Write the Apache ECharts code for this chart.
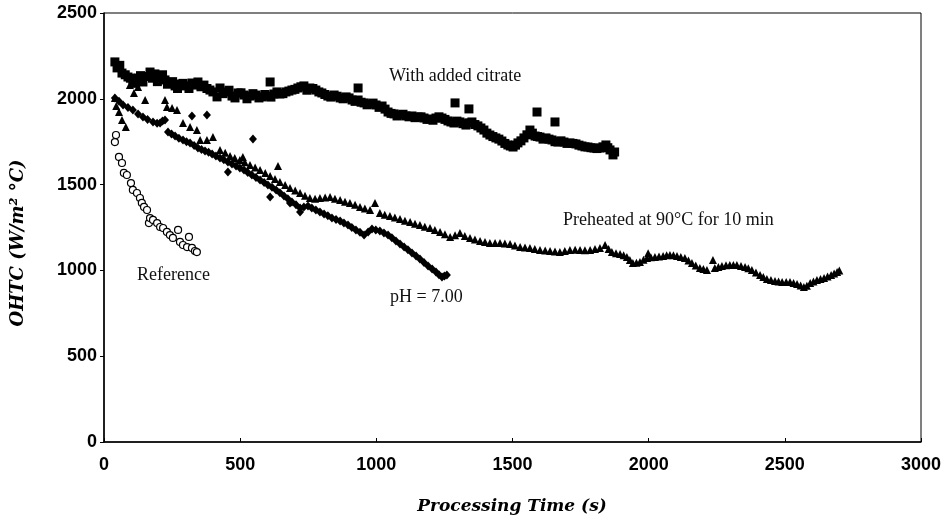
<!DOCTYPE html>
<html>
<head>
<meta charset="utf-8">
<script src="https://cdn.jsdelivr.net/npm/echarts@6/dist/echarts.min.js"></script>
<style>html,body{margin:0;padding:0;background:#fff}#c{width:948px;height:522px}</style>
</head>
<body>
<div id="c"></div>
<script>
// With added citrate (squares)
const citrateTime = [40,48,66,88,106,125,143,169,187,206,224,242,261,279,301,323,345,367,389,415,426,448,470,492,514,536,558,580,602,610,624,646,668,690,712,734,756,778,800,822,845,867,889,911,933,933,955,977,999,1021,1043,1065,1087,1109,1131,1153,1175,1197,1219,1241,1263,1285,1289,1307,1329,1340,1351,1373,1395,1417,1439,1461,1483,1502,1520,1542,1564,1583,1590,1601,1623,1645,1656,1667,1689,1711,1733,1755,1777,1799,1821,1843,1858,1869,
  58,78,97,116,134,152,178,196,215,233,252,270,290,312,334,356,378,400,437,459,481,503,525,547,569,591,613,635,657,679,701,723,745,767,789,811,833,856,878,900,922,944,966,988,1010,1032,1054,1076,1098,1120,1142,1164,1186,1208,1230,1252,1274,1296,1318,1340,1362,1384,1406,1428,1450,1472,1492,1511,1531,1553,1573,1592,1612,1634,1656,1678,1700,1722,1744,1766,1788,1810,1832,1850,1875];
const citrateOHTC = [2215,2180,2150,2127,2110,2121,2098,2156,2145,2127,2110,2092,2075,2086,2075,2092,2098,2080,2051,2011,2063,2040,2016,2034,2022,2016,2022,2011,2016,2098,2028,2028,2040,2051,2063,2075,2063,2051,2034,2016,2022,2005,2011,1993,2063,1993,1976,1970,1964,1958,1923,1912,1906,1900,1900,1894,1888,1882,1888,1888,1871,1859,1976,1865,1847,1941,1865,1842,1818,1789,1772,1754,1731,1719,1743,1772,1818,1783,1923,1777,1772,1760,1865,1748,1748,1743,1737,1725,1719,1713,1713,1731,1702,1673,
  2195,2140,2120,2090,2135,2130,2120,2100,2140,2085,2100,2060,2090,2060,2080,2070,2060,2040,2030,2050,2005,2035,2000,2030,2005,2025,2010,2040,2030,2045,2055,2070,2050,2060,2040,2025,2010,2015,2000,2005,1985,1980,1965,1975,1950,1940,1915,1900,1910,1895,1890,1895,1880,1875,1895,1880,1865,1870,1855,1860,1850,1830,1800,1780,1765,1740,1725,1730,1755,1790,1800,1780,1765,1765,1750,1755,1740,1740,1730,1720,1715,1710,1720,1715,1690];

// Preheated at 90°C for 10 min (triangles)
const preheatTime = [40,45,55,66,80,95,110,125,151,224,231,250,268,290,316,341,353,378,400,426,463,499,510,536,573,610,639,646,683,720,756,793,830,867,903,940,977,995,1013,1050,1087,1124,1160,1197,1234,1271,1307,1344,1381,1417,1454,1491,1528,1564,1601,1638,1674,1711,1748,1785,1821,1840,1865,1895,1920,1942,1968,1994,1998,2023,2053,2078,2104,2133,2159,2188,2214,2236,2243,2269,2298,2324,2354,2379,2409,2434,2464,2490,2519,2545,2570,2593,2618,2644,2670,2692,
  445,480,517,555,592,628,665,702,738,775,812,848,885,922,958,1031,1068,1105,1142,1178,1215,1252,1289,1325,1362,1399,1436,1472,1509,1546,1582,1620,1656,1692,1730,1766,1803,1853,1880,1908,1931,1955,1981,2008,2038,2066,2091,2118,2146,2173,2201,2256,2284,2311,2339,2366,2394,2421,2449,2477,2505,2532,2558,2581,2605,2631,2657,2681,2700];
const preheatOHTC = [2005,1958,1923,1877,1836,2080,2034,2069,1993,1993,1952,1947,1935,1859,1836,1818,1760,1760,1777,1702,1667,1643,1661,1614,1585,1550,1608,1515,1480,1451,1422,1422,1428,1410,1393,1370,1352,1393,1335,1317,1300,1282,1265,1247,1224,1195,1218,1189,1171,1160,1160,1154,1136,1131,1119,1113,1107,1119,1119,1119,1131,1148,1107,1096,1078,1043,1049,1072,1100,1078,1084,1090,1084,1072,1043,1014,1002,1061,1014,1026,1032,1032,1020,1002,973,950,938,932,932,921,903,927,944,956,973,991,
  1685,1655,1630,1600,1568,1532,1497,1466,1435,1418,1425,1418,1400,1382,1360,1325,1308,1290,1272,1255,1235,1210,1205,1200,1180,1165,1160,1157,1145,1133,1125,1116,1110,1113,1120,1118,1125,1125,1100,1088,1060,1045,1062,1076,1081,1088,1088,1078,1058,1028,1008,1020,1030,1032,1026,1012,988,962,944,935,932,926,912,910,935,950,965,982,1000];

// pH = 7.00 (diamonds)
const ph7Time = [40,55,70,88,106,125,143,160,180,195,206,215,224,235,261,290,316,323,345,371,378,397,426,455,455,485,514,543,547,573,602,610,632,661,683,690,720,720,749,778,808,837,867,896,925,955,984,1013,1043,1072,1102,1131,1160,1190,1219,1241,1259,
  248,275,303,331,358,384,411,440,470,499,528,558,588,617,646,675,705,734,763,793,822,852,881,910,940,970,998,1028,1057,1087,1116,1146,1175,1205,1230,1250];
const ph7OHTC = [2005,1985,1964,1950,1935,1912,1894,1880,1865,1858,1859,1870,1877,1807,1783,1760,1743,1900,1713,1696,1906,1678,1655,1632,1574,1608,1585,1556,1766,1527,1498,1428,1469,1434,1393,1399,1364,1340,1375,1352,1329,1305,1288,1265,1236,1206,1241,1230,1206,1171,1136,1101,1066,1026,991,962,973,
  1795,1770,1750,1728,1705,1688,1666,1645,1620,1597,1570,1542,1512,1484,1452,1418,1382,1370,1363,1340,1318,1297,1276,1250,1222,1224,1236,1218,1190,1154,1120,1084,1046,1008,975,968];

// Reference (open circles)
const refTime = [40,44,55,66,73,84,99,106,121,132,139,147,158,165,169,180,195,206,217,231,242,253,272,279,290,305,312,323,334,341];
const refOHTC = [1748,1789,1661,1626,1568,1556,1509,1469,1451,1422,1393,1370,1352,1276,1305,1294,1276,1253,1247,1224,1206,1189,1236,1166,1148,1136,1195,1131,1113,1107];

const xTicks = [0,500,1000,1500,2000,2500,3000];
const yTicks = [0,500,1000,1500,2000,2500];

const zip = (a, b) => a.map((v, i) => [v, b[i]]);

const chart = echarts.init(document.getElementById('c'), null, {renderer: 'canvas'});
const tickFont = {color: '#000', fontFamily: 'Liberation Sans', fontWeight: 'bold', fontSize: 18, formatter: v => String(v)};
const annot = (text, x, y, align) => ({
  type: 'text', x: x, y: y,
  style: {text: text, fill: '#111', font: '18px "Liberation Serif"', textAlign: align || 'left', textVerticalAlign: 'middle'}
});
const solid = {color: '#000', opacity: 1};

chart.setOption({
  animation: false,
  backgroundColor: '#fff',
  grid: {left: 104, right: 27, top: 13, bottom: 80, show: true, borderColor: '#000', borderWidth: 1, backgroundColor: 'transparent'},
  xAxis: {
    type: 'value', min: xTicks[0], max: xTicks[xTicks.length - 1], interval: 500,
    axisLine: {show: true, onZero: false, lineStyle: {color: '#000', width: 1.5}},
    axisTick: {show: true, inside: true, length: 4, lineStyle: {color: '#000'}},
    axisLabel: Object.assign({margin: 14}, tickFont),
    splitLine: {show: false}
  },
  yAxis: {
    type: 'value', min: yTicks[0], max: yTicks[yTicks.length - 1], interval: 500,
    axisLine: {show: true, onZero: false, lineStyle: {color: '#000', width: 1.5}},
    axisTick: {show: true, inside: false, length: 4, lineStyle: {color: '#000'}},
    axisLabel: Object.assign({margin: 7}, tickFont),
    splitLine: {show: false}
  },
  series: [
    {type: 'scatter', name: 'With added citrate', symbol: 'rect', symbolSize: 9,
     itemStyle: solid, data: zip(citrateTime, citrateOHTC)},
    {type: 'scatter', name: 'Preheated at 90°C for 10 min', symbol: 'triangle', symbolSize: 8,
     itemStyle: solid, data: zip(preheatTime, preheatOHTC)},
    {type: 'scatter', name: 'pH = 7.00', symbol: 'diamond', symbolSize: [8, 9],
     itemStyle: solid, data: zip(ph7Time, ph7OHTC)},
    {type: 'scatter', name: 'Reference', symbol: 'circle', symbolSize: 7,
     itemStyle: {color: '#fff', borderColor: '#000', borderWidth: 1.2, opacity: 1}, data: zip(refTime, refOHTC)}
  ],
  graphic: [
    annot('With added citrate', 389, 76),
    annot('Preheated at 90°C for 10 min', 563, 220),
    annot('pH = 7.00', 390, 297),
    annot('Reference', 137, 275),
    {type: 'text', x: 512, y: 507,
     style: {text: 'Processing Time (s)', fill: '#000', font: 'italic bold 17px "DejaVu Serif"', textAlign: 'center', textVerticalAlign: 'middle'}},
    {type: 'text', x: 18, y: 243, rotation: Math.PI / 2,
     style: {text: 'OHTC (W/m² °C)', fill: '#000', font: 'italic bold 18px "DejaVu Serif"', textAlign: 'center', textVerticalAlign: 'middle'}}
  ]
});
</script>
</body>
</html>
